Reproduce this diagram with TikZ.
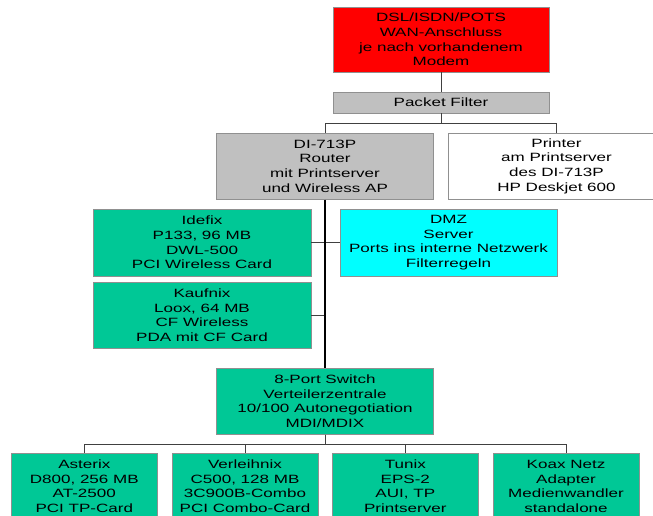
\documentclass[tikz,border=0pt]{standalone}
\usepackage{fontspec}
\setmainfont{Liberation Sans}[FakeStretch=1.42]
\definecolor{wanred}{HTML}{FF0000}
\definecolor{pfgray}{HTML}{C0C0C0}
\definecolor{hostgreen}{HTML}{00C896}
\definecolor{dmzcyan}{HTML}{00FFFF}
\definecolor{bordergray}{HTML}{909090}
\definecolor{linegray}{HTML}{404040}
\tikzset{
  box/.style={draw=bordergray, line width=0.8pt, rectangle, align=center, inner sep=0pt,
    font=\fontsize{12}{14.7}\selectfont, text=black},
  conn/.style={draw=linegray, line width=0.9pt},
  trunk/.style={draw=black, line width=1.8pt}
}
\begin{document}
\begin{tikzpicture}[x=1pt,y=-1pt]
\useasboundingbox (0,0) rectangle (653,515);
\clip (0,0) rectangle (653,515);
\node[box, fill=wanred, minimum width=216pt, minimum height=65pt] (wan) at (441,39.5)
  {DSL/ISDN/POTS\\WAN-Anschluss\\je nach vorhandenem\\Modem};
\node[box, fill=pfgray, minimum width=216pt, minimum height=21pt] (pf) at (441,102.5)
  {Packet Filter};
\node[box, fill=pfgray, minimum width=217pt, minimum height=66pt] (router) at (325,166.2)
  {DI-713P\\Router\\mit Printserver\\und Wireless AP};
\node[box, fill=white, minimum width=217pt, minimum height=66pt] (printer) at (556.5,166.2)
  {Printer\\am Printserver\\des DI-713P\\HP Deskjet 600};
\node[box, fill=hostgreen, minimum width=218pt, minimum height=67pt] (idefix) at (202,242.6)
  {Idefix\\P133, 96 MB\\DWL-500\\PCI Wireless Card};
\node[box, fill=dmzcyan, minimum width=217pt, minimum height=67pt] (dmz) at (448.5,242.6)
  {DMZ\\Server\\Ports ins interne Netzwerk\\Filterregeln};
\node[box, fill=hostgreen, minimum width=218pt, minimum height=66pt] (kaufnix) at (202,315.3)
  {Kaufnix\\Loox, 64 MB\\CF Wireless\\PDA mit CF Card};
\node[box, fill=hostgreen, minimum width=217pt, minimum height=66pt] (switch) at (325,401.2)
  {8-Port Switch\\Verteilerzentrale\\10/100 Autonegotiation\\MDI/MDIX};
\node[box, fill=hostgreen, minimum width=146pt, minimum height=66pt] (asterix) at (84.3,486.3)
  {Asterix\\D800, 256 MB\\AT-2500\\PCI TP-Card};
\node[box, fill=hostgreen, minimum width=146pt, minimum height=66pt] (verleihnix) at (245,486.3)
  {Verleihnix\\C500, 128 MB\\3C900B-Combo\\PCI Combo-Card};
\node[box, fill=hostgreen, minimum width=146pt, minimum height=66pt] (tunix) at (405.3,486.3)
  {Tunix\\EPS-2\\AUI, TP\\Printserver};
\node[box, fill=hostgreen, minimum width=146pt, minimum height=66pt] (koax) at (566,486.3)
  {Koax Netz\\Adapter\\Medienwandler\\standalone};
% connectors
\draw[conn] (wan.south) -- (pf.north);
\draw[conn] (pf.south) -- ++(0,10) -| (router.north);
\draw[conn] (pf.south) -- ++(0,10) -| (printer.north);
\draw[conn] (idefix.east) -- (dmz.west);
\coordinate (ktap) at (kaufnix.east -| router.south);
\draw[conn] (kaufnix.east) -- (ktap);
\draw[trunk] (router.south) -- (switch.north);
\draw[conn] (switch.south) -- ++(0,9.5) -| (asterix.north);
\draw[conn] (switch.south) -- ++(0,9.5) -| (verleihnix.north);
\draw[conn] (switch.south) -- ++(0,9.5) -| (tunix.north);
\draw[conn] (switch.south) -- ++(0,9.5) -| (koax.north);
\end{tikzpicture}
\end{document}
